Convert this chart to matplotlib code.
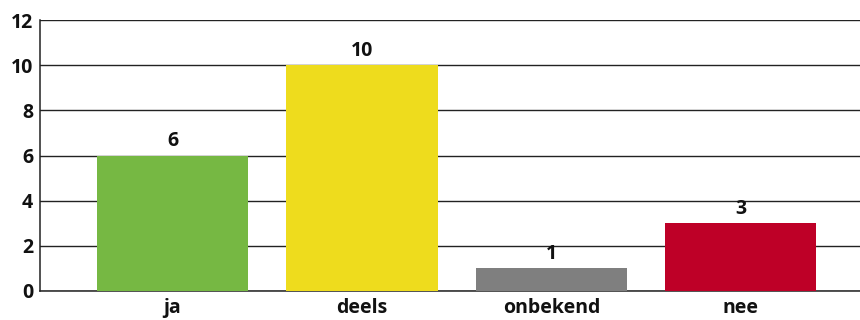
import matplotlib
matplotlib.use("Agg")
import matplotlib.pyplot as plt

categories = ["ja", "deels", "onbekend", "nee"]
values = [6, 10, 1, 3]
colors = ["#76b843", "#eedc1d", "#7f7f7f", "#be0027"]
yticks = [0, 2, 4, 6, 8, 10, 12]

plt.rcParams['font.family'] = ['Open Sans', 'DejaVu Sans']

fig = plt.figure(figsize=(8.6, 3.2), dpi=100)
ax = fig.add_axes([40/860, 29/320, 820/860, 271/320])

x = list(range(len(categories)))
bars = ax.bar(x, values, width=0.8, color=colors, zorder=3)
for xi, v in zip(x, values):
    ax.annotate(str(v), (xi, v), xytext=(0, 3), textcoords="offset points",
                ha="center", va="bottom", fontsize=14, fontweight="bold", color="#111111")

ax.set_ylim(0, 12)
ax.set_xlim(-0.7, 3.63)
ax.set_yticks(yticks)
ax.set_xticks(x)
ax.set_xticklabels(categories)
ax.yaxis.grid(True, color="#222222", linewidth=1.0, zorder=0)
ax.set_axisbelow(True)
for s in ["top", "right"]:
    ax.spines[s].set_visible(False)
ax.spines["left"].set_color("#222222")
ax.spines["bottom"].set_color("#222222")
ax.spines["left"].set_linewidth(1.1)
ax.spines["bottom"].set_linewidth(1.1)
ax.tick_params(axis="both", length=0, labelsize=14, pad=5, colors="#111111")
for lbl in ax.get_xticklabels() + ax.get_yticklabels():
    lbl.set_fontweight("bold")

fig.savefig("out.png", dpi=100)
